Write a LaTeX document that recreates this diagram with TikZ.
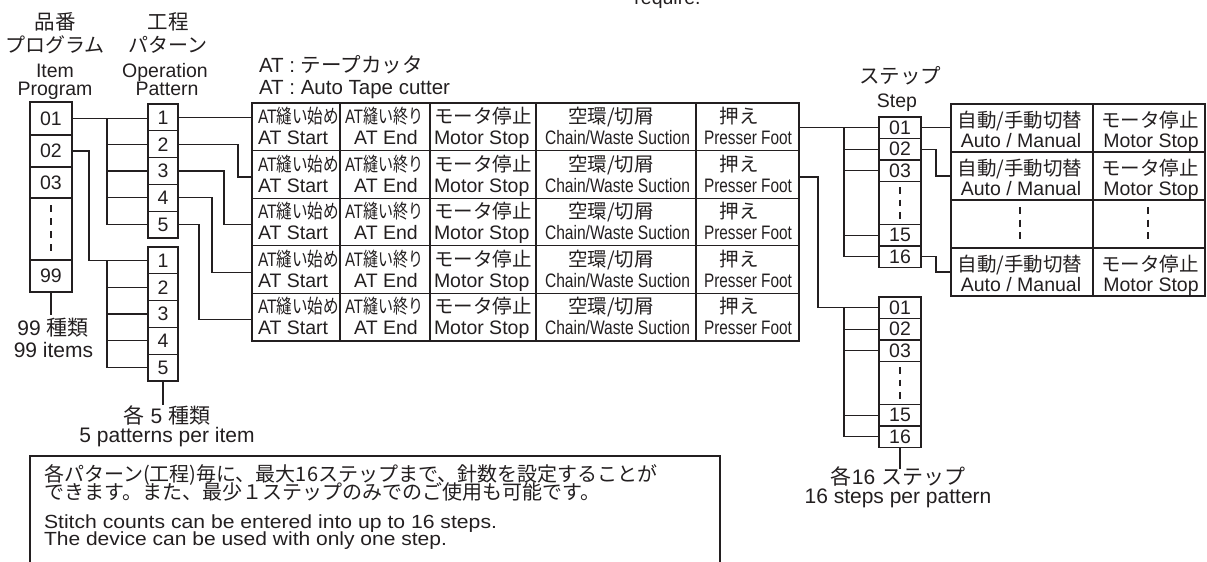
\documentclass[tikz,border=0pt]{standalone}
\usepackage{fontspec}
\setmainfont{Liberation Sans}
\newfontfamily\jpf{Noto Sans CJK JP}
\usepackage{graphicx}
\newcommand\J[1]{{\jpf #1}}
\newcommand\fs[1]{\fontsize{#1}{#1}\selectfont}
\newcommand\fitw[2]{\resizebox{#1pt}{\height}{#2}}
\definecolor{ink}{HTML}{231F20}
\tikzset{
  ln/.style={draw=ink, line width=1.2pt},
  box/.style={draw=ink, line width=1.2pt, inner sep=0pt, outer sep=0pt, text=ink, font=\fs{19.5}},
  txt/.style={inner sep=0pt, outer sep=0pt, text=ink, font=\fs{19.5}},
  jp/.style={font=\jpf\fs{#1}},
  lat/.style={font=\fs{#1}},
  gapline/.style={draw=ink, line width=1.2pt, dash pattern=on 7pt off 6pt},
}
\begin{document}
\begin{tikzpicture}[x=1pt,y=-1pt]
\useasboundingbox (0,0) rectangle (1207,562);

% ---------- headers ----------
\node[txt] (reqtxt) [anchor=base] at (667.5,5) {require.};
\node[txt, jp=20.5] (hI1) at (55,22) {品番};
\node[txt, jp=20] (hI2) at (55,45) {プログラム};
\node[txt, anchor=base] (hI3) at (55,77.5) {Item};
\node[txt, anchor=base] (hI4) at (55,95) {Program};
\node[txt, jp=20.5] (hP1) at (168,22) {工程};
\node[txt, jp=20] (hP2) at (168,45) {パターン};
\node[txt, anchor=base] (hP3) at (165,77.5) {Operation};
\node[txt, anchor=base] (hP4) at (167,95) {Pattern};
\node[txt, lat=20.5, anchor=base west] (hAT1) at (259,72.5) {AT : \J{テープカッタ}};
\node[txt, lat=20.5, anchor=base west] (hAT2) at (259,94) {AT : Auto Tape cutter};
\node[txt, jp=20.5] (hS1) at (900,76) {ステップ};
\node[txt, anchor=base] (hS2) at (897,107) {Step};

% ---------- item program box ----------
\node[box, minimum width=42pt, minimum height=33pt] (i01) at (51,118.5) {01};
\node[box, minimum width=42pt, minimum height=32pt] (i02) at (51,151) {02};
\node[box, minimum width=42pt, minimum height=31pt] (i03) at (51,182.5) {03};
\node[box, minimum width=42pt, minimum height=62pt] (idots) at (51,229) {};
\node[box, minimum width=42pt, minimum height=32pt] (i99) at (51,276) {99};
\draw[gapline] ([yshift=-7pt]idots.north) -- ([yshift=8pt]idots.south);
\draw[ln] (i99.south) -- ++(0,23);
\node[txt, lat=21] (l99a) at (53,328) {99 \J{種類}};
\node[txt, lat=21, anchor=base] (l99b) at (53.5,357) {99 items};

% ---------- pattern boxes ----------
\foreach \k in {1,...,5}{
  \node[box, minimum width=30pt, minimum height=26.8pt] (pA\k) at (163,{104+(\k-0.5)*26.8}) {\k};
  \node[box, minimum width=30pt, minimum height=26.8pt] (pB\k) at (163,{247+(\k-0.5)*26.8}) {\k};
}
\coordinate (busA) at (107,0);
\draw[ln] (i01.east) -- (i01.east -| pA1.west);
\draw[ln] (i01.east -| busA) |- (pA5.west);
\draw[ln] (i02.east) -- ++(17,0) |- (pB1.west);
\draw[ln] (pB1.west -| busA) |- (pB5.west);
\foreach \k in {2,3,4}{
  \draw[ln] (pA\k.west -| busA) -- (pA\k.west);
  \draw[ln] (pB\k.west -| busA) -- (pB\k.west);
}
\draw[ln] (pB5.south) -- ++(0,24);
\node[txt, lat=21] (l5a) at (167,415) {\J{各} 5 \J{種類}};
\node[txt, lat=21, anchor=base] (l5b) at (167,442.5) {5 patterns per item};

% ---------- pattern table ----------
\foreach \r in {1,...,5}{
  \pgfmathsetmacro\ty{103+(\r-1)*47.6}
  \pgfmathsetmacro\ym{\ty+23.8}
  \pgfmathsetmacro\ya{\ty+20.5}
  \pgfmathsetmacro\yb{\ty+41.5}
  \node[box, minimum width=88pt, minimum height=47.6pt] (t\r1) at (296,\ym) {};
  \node[box, minimum width=90pt, minimum height=47.6pt] (t\r2) at (385,\ym) {};
  \node[box, minimum width=106pt, minimum height=47.6pt] (t\r3) at (483,\ym) {};
  \node[box, minimum width=160pt, minimum height=47.6pt] (t\r4) at (616,\ym) {};
  \node[box, minimum width=103pt, minimum height=47.6pt] (t\r5) at (747.5,\ym) {};
  \node[txt, anchor=base west] (t\r1j) at (258,\ya) {\fitw{81}{AT\J{縫い始め}}};
  \node[txt, anchor=base west] (t\r1e) at (258,\yb) {AT Start};
  \node[txt, anchor=base] (t\r2j) at (384,\ya) {\fitw{78}{AT\J{縫い終り}}};
  \node[txt, anchor=base] (t\r2e) at (386,\yb) {AT End};
  \node[txt, anchor=base west] (t\r3j) at (434,\ya) {\J{モータ停止}};
  \node[txt, anchor=base west] (t\r3e) at (434,\yb) {Motor Stop};
  \node[txt, anchor=base] (t\r4j) at (611,\ya) {\J{空環/切屑}};
  \node[txt, anchor=base] (t\r4e) at (617.5,\yb) {\fitw{145}{Chain/Waste Suction}};
  \node[txt, anchor=base] (t\r5j) at (739,\ya) {\J{押え}};
  \node[txt, anchor=base] (t\r5e) at (748,\yb) {\fitw{88}{Presser Foot}};
}
\draw[ln] (pA1.east) -- (pA1.east -| t11.west);
\draw[ln] (pA2.east) -- ++(60,0) |- ([yshift=-2.5pt]t21.west);
\draw[ln] (pA3.east) -- ++(46,0) |- ([yshift=-2.5pt]t31.west);
\draw[ln] (pA4.east) -- ++(34,0) |- ([yshift=-2.5pt]t41.west);
\draw[ln] (pA5.east) -- ++(21,0) |- ([yshift=-2.5pt]t51.west);

% ---------- step boxes ----------
\coordinate (busS) at (844,0);
\foreach \g/\off in {A/0,B/180}{
  \node[box, minimum width=42pt, minimum height=21.5pt] (s\g01) at (900,127.75+\off) {01};
  \node[box, minimum width=42pt, minimum height=21.5pt] (s\g02) at (900,149.25+\off) {02};
  \node[box, minimum width=42pt, minimum height=21.5pt] (s\g03) at (900,170.75+\off) {03};
  \node[box, minimum width=42pt, minimum height=43pt] (sd\g) at (900,203+\off) {};
  \node[box, minimum width=42pt, minimum height=21.5pt] (s\g15) at (900,235.25+\off) {15};
  \node[box, minimum width=42pt, minimum height=21.5pt] (s\g16) at (900,256.75+\off) {16};
  \draw[gapline, dash pattern=on 6.5pt off 6pt] ([yshift=-5.5pt]sd\g.north) -- ([yshift=4.5pt]sd\g.south);
  \draw[ln] (s\g01.west -| busS) |- (s\g16.west);
  \foreach \k in {02,03,15}{
    \draw[ln] (s\g\k.west -| busS) -- (s\g\k.west);
  }
}
\draw[ln] (sA01.west -| t15.east) -- (sA01.west);
\draw[ln] ([yshift=-2.5pt]t25.east) -- ++(19,0) |- (sB01.west);
\draw[ln] (sB16.south) -- ++(0,21);
\node[txt, lat=21] (l16a) at (898,476.5) {\J{各}16 \J{ステップ}};
\node[txt, lat=21, anchor=base] (l16b) at (898,503.5) {16 steps per pattern};

% ---------- step table ----------
\foreach \r in {1,...,4}{
  \pgfmathsetmacro\ty{104+(\r-1)*48}
  \pgfmathsetmacro\ym{\ty+24}
  \node[box, minimum width=142pt, minimum height=48pt] (r\r1) at (1022,\ym) {};
  \node[box, minimum width=112pt, minimum height=48pt] (r\r2) at (1149,\ym) {};
}
\foreach \r in {1,2,4}{
  \pgfmathsetmacro\ty{104+(\r-1)*48}
  \pgfmathsetmacro\ya{\ty+23}
  \pgfmathsetmacro\yb{\ty+43.5}
  \node[txt, anchor=base] (r\r1j) at (1020,\ya) {\J{自動/手動切替}};
  \node[txt, anchor=base] (r\r1e) at (1021,\yb) {Auto / Manual};
  \node[txt, anchor=base] (r\r2j) at (1150,\ya) {\J{モータ停止}};
  \node[txt, anchor=base] (r\r2e) at (1151,\yb) {Motor Stop};
}
\draw[gapline, dash pattern=on 7pt off 5.5pt] ([xshift=-2pt,yshift=-7pt]r31.north) -- ([xshift=-2pt,yshift=6pt]r31.south);
\draw[gapline, dash pattern=on 7pt off 5.5pt] ([xshift=-1pt,yshift=-7pt]r32.north) -- ([xshift=-1pt,yshift=6pt]r32.south);
\draw[ln] (sA01.east) -- (sA01.east -| r11.west);
\draw[ln] (sA02.east) -- ++(15,0) |- (r21.west);
\draw[ln] (sA16.east) -- ++(15,0) |- (r41.west);

% ---------- note box ----------
\node[box, minimum width=690pt, minimum height=120pt] (note) at (375,516) {};
\node[txt, jp=20, anchor=base west] (note1) at (44,481) {各パターン(工程)毎に、最大16ステップまで、針数を設定することが};
\node[txt, jp=20, anchor=base west] (note2) at (44,499) {できます。また、最少１ステップのみでのご使用も可能です。};
\node[txt, lat=19, anchor=base west] (note3) at (44,528) {\fitw{453}{Stitch counts can be entered into up to 16 steps.}};
\node[txt, lat=19, anchor=base west] (note4) at (44,545) {\fitw{403}{The device can be used with only one step.}};
\end{tikzpicture}
\end{document}
